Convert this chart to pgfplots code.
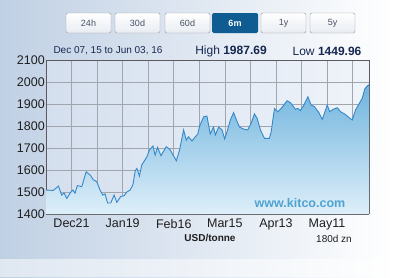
\documentclass[border=0pt]{standalone}
\usepackage{pgfplots}
\pgfplotsset{compat=1.18}
\usepackage{fontspec}
\setmainfont{Liberation Sans}
\definecolor{bgl}{RGB}{192,208,228}
\definecolor{plotbgl}{RGB}{212,223,238}
\definecolor{plotbgr}{RGB}{240,244,250}
\definecolor{linec}{RGB}{52,136,202}
\definecolor{filltop}{RGB}{112,180,222}
\definecolor{fillbot}{RGB}{222,239,249}
\definecolor{navy}{RGB}{22,40,80}
\definecolor{kitco}{RGB}{80,163,209}
\definecolor{btnblue}{RGB}{14,92,146}
\definecolor{gridc}{RGB}{160,165,174}
\begin{document}
\begin{tikzpicture}[x=1pt,y=1pt]
\shade[left color=bgl, right color=white] (0,0) rectangle (393,277);
\fill[white,opacity=0.5] (0,0) rectangle (393,18);
% buttons
\foreach \a/\b/\t in {66/111/24h,115/160/30d,165/210/60d,261/306/1y,310/355/5y}{
  \shade[rounded corners=1.5pt, top color=white, bottom color={rgb,255:red,232;green,236;blue,242}, draw={rgb,255:red,150;green,155;blue,162}] (\a,244) rectangle (\b,264);
  \node[font=\fontsize{9}{9}\selectfont, text={rgb,255:red,70;green,80;blue,100}] at ({(\a+\b)/2},254) {\t};
}
\fill[rounded corners=1.5pt, btnblue] (212,244) rectangle (258,264);
\node[font=\fontsize{9}{9}\selectfont\bfseries, text=white] at (235,254) {6m};
% header texts
\node[font=\fontsize{10}{10}\selectfont, text=navy] at (108,226) {Dec 07, 15 to Jun 03, 16};
\node[font=\fontsize{12}{12}\selectfont, text=navy] at (231,226) {High \textbf{1987.69}};
\node[font=\fontsize{12}{12}\selectfont, text=navy] at (327,226) {Low \textbf{1449.96}};
\begin{axis}[
  at={(46pt,63pt)}, anchor=south west, scale only axis,
  width=323pt, height=154pt,
  xmin=0, xmax=177, ymin=1400, ymax=2100,
  ytick={1400,1500,...,2100},
  xtick={14,42,70,98,126,154},
  xticklabels={Dec21,Jan19,Feb16,Mar15,Apr13,May11},
  minor xtick={28,56,84,112,140,168},
  grid=both,
  major grid style={gridc, line width=0.5pt},
  minor grid style={gridc, line width=0.5pt},
  tick style={draw=none},
  /pgf/number format/assume math mode=true,
  /pgf/number format/1000 sep={},
  ticklabel style={font=\fontsize{12.5}{12.5}\selectfont, text={rgb,255:red,30;green,30;blue,30}},
  yticklabel style={inner sep=1pt},
  xticklabel style={inner sep=2pt, yshift=-3pt},
  axis background/.style={left color=plotbgl, right color=plotbgr},
  axis line style={draw={rgb,255:red,150;green,150;blue,155}},
  separate axis lines,
  x axis line style={draw={rgb,255:red,90;green,90;blue,95}, line width=0.8pt},
  y axis line style={draw={rgb,255:red,90;green,90;blue,95}, line width=0.8pt},
]
\pgfplotstableread{
x y
0 1509
4.0 1507
6.8 1527
8.6 1486
9.9 1495
11.4 1471
13.2 1495
14.7 1509
15.9 1495
17.2 1529
19.6 1524
22.0 1592
24.2 1577
26.0 1555
27.8 1547
29.6 1509
31.1 1486
32.4 1491
33.7 1450
35.5 1450
37.3 1486
38.8 1453
41.0 1480
42.8 1483
44.3 1500
46.1 1509
47.6 1532
48.9 1597
49.8 1607
51.2 1573
52.5 1623
55.3 1660
56.7 1691
58.6 1709
59.8 1668
61.1 1703
63.0 1665
65.9 1706
68.1 1691
71.4 1642
73.2 1691
75.4 1782
76.9 1736
78.1 1751
80.0 1732
81.8 1751
83.1 1762
84.2 1800
86.4 1842
88.2 1845
90.0 1764
91.8 1795
92.8 1759
94.6 1795
96.5 1782
97.9 1741
99.5 1782
101.0 1827
102.8 1861
104.7 1820
106.1 1795
108.3 1786
110.5 1782
112.4 1812
114.2 1855
115.7 1835
117.5 1782
119.7 1744
122.4 1744
123.4 1774
125.2 1880
127.0 1865
128.9 1880
132.1 1915
134.0 1906
136.7 1876
138.0 1880
139.4 1870
141.3 1895
143.5 1933
145.3 1895
147.1 1888
149.5 1861
151.4 1830
153.2 1873
154.1 1895
155.5 1865
157.4 1876
159.6 1883
161.4 1865
163.6 1855
166.0 1839
167.8 1827
169.6 1873
171.5 1900
173.3 1926
174.6 1967
176.0 1982
177.0 1988
}\pricedata
\addplot[draw=none, top color=filltop, bottom color=fillbot] table {\pricedata} \closedcycle;
\addplot[linec, line width=0.9pt] table {\pricedata};
\end{axis}
\node[font=\fontsize{12.5}{12.5}\selectfont\bfseries, text=kitco] at (300,74) {www.kitco.com};
\node[font=\fontsize{10}{10}\selectfont\bfseries, text={rgb,255:red,30;green,30;blue,30}] at (210,39) {USD/tonne};
\node[font=\fontsize{10}{10}\selectfont, text={rgb,255:red,30;green,30;blue,30}] at (334,38) {180d zn};
\end{tikzpicture}
\end{document}
